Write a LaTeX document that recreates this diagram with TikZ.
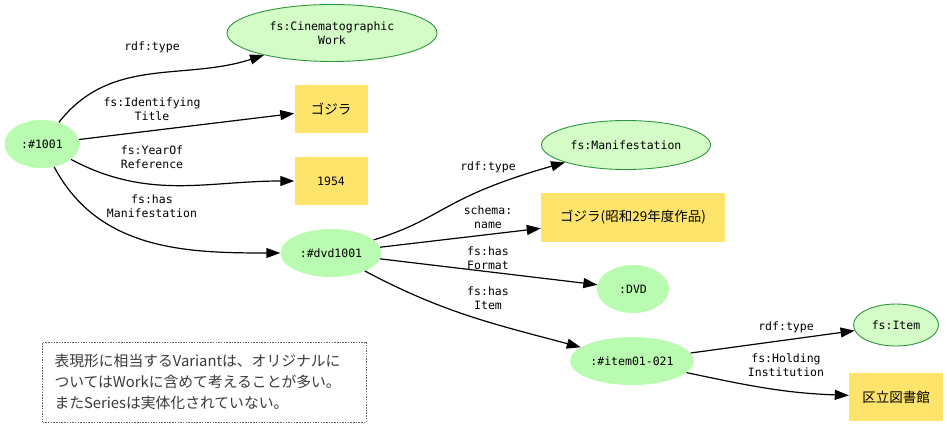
\documentclass[tikz,border=0pt]{standalone}
\usepackage{fontspec}
\setmainfont{DejaVu Sans Mono}
\newfontfamily\jpfont{Noto Sans CJK JP}
\usetikzlibrary{shapes,arrows.meta}

\definecolor{resfill}{HTML}{B9FBB0}
\definecolor{classfill}{HTML}{D3FCC7}
\definecolor{classline}{HTML}{2E963E}
\definecolor{litfill}{HTML}{FFE46C}
\definecolor{notetext}{HTML}{3A3A3A}

\tikzset{
	resource/.style={ellipse, fill=resfill, inner sep=0pt, font=\fontsize{11.5}{14}\selectfont},
	class/.style={ellipse, draw=classline, fill=classfill, line width=0.9pt, inner sep=0pt, align=center, font=\fontsize{11.5}{14}\selectfont},
	literal/.style={rectangle, fill=litfill, inner sep=0pt, minimum height=48pt, font=\fontsize{11.5}{14}\selectfont},
	jplit/.style={literal, font=\jpfont\fontsize{13.5}{16}\selectfont},
	proplabel/.style={align=center, inner sep=0pt, font=\fontsize{11.5}{14.5}\selectfont},
	link/.style={->, line width=1.2pt}
}

\begin{document}
\begin{tikzpicture}[x=1pt, y=-1pt, >={Triangle[length=14pt,width=10pt]}]
	\useasboundingbox (0,0) rectangle (947,427);
	% resources and classes
	\node [resource, minimum width=75pt, minimum height=48pt] (work) at (42,144) {:\#1001};
	\node [class, minimum width=210pt, minimum height=57pt] (cinework) at (332,33) {fs:Cinematographic\\Work};
	\node [jplit, minimum width=73pt] (title) at (331,109) {ゴジラ};
	\node [literal, minimum width=73pt] (year) at (331,181) {1954};
	\node [resource, minimum width=101pt, minimum height=48pt] (dvd) at (331,253) {:\#dvd1001};
	\node [class, minimum width=169pt, minimum height=49pt] (manif) at (626,145) {fs:Manifestation};
	\node [jplit, minimum width=184pt, minimum height=49pt] (name) at (633,217.5) {ゴジラ(昭和29年度作品)};
	\node [resource, minimum width=72pt, minimum height=48pt] (format) at (633,289) {:DVD};
	\node [resource, minimum width=124pt, minimum height=48pt] (item) at (632,361) {:\#item01-021};
	\node [class, minimum width=85pt, minimum height=42pt] (itemclass) at (896,325) {fs:Item};
	\node [jplit, minimum width=94pt] (library) at (896,397) {区立図書館};

	% property labels
	\node [proplabel] (typeA) at (152,47) {rdf:type};
	\node [proplabel] (titleprop) at (152,109) {fs:Identifying\\Title};
	\node [proplabel] (yearprop) at (152,157) {fs:YearOf\\Reference};
	\node [proplabel] (manifprop) at (152,206) {fs:has\\Manifestation};
	\node [proplabel] (typeB) at (488,167) {rdf:type};
	\node [proplabel] (nameprop) at (488,217) {schema:\\name};
	\node [proplabel] (formatprop) at (488,258) {fs:has\\Format};
	\node [proplabel] (itemprop) at (488,298) {fs:has\\Item};
	\node [proplabel] (typeC) at (786,327) {rdf:type};
	\node [proplabel] (holdprop) at (786,365) {fs:Holding\\Institution};

	% links
	\path [link] (work) edge [out=52, in=198] (cinework);
	\path [link] (work) edge (title);
	\path [link] (work) edge [out=-28, in=180] (year);
	\path [link] (work) edge [out=-62, in=180] (dvd);
	\draw [link] (dvd) .. controls (445,218) and (440,198) .. (manif);
	\path [link] (dvd) edge (name);
	\path [link] (dvd) edge (format);
	\path [link] (dvd) edge [out=-28, in=165] (item);
	\path [link] (item) edge (itemclass);
	\path [link] (item) edge [out=-12, in=178] (library);

	% note
	\node [draw=gray!80!black, dash pattern=on 1.5pt off 1.2pt, line width=0.6pt, minimum width=321pt, minimum height=80pt, inner xsep=12pt, text width=300pt, align=left, text=notetext, font=\jpfont\fontsize{14.8}{21}\selectfont] (note) at (204.5,382) {表現形に相当するVariantは、オリジナルに\\ついてはWorkに含めて考えることが多い。\\またSeriesは実体化されていない。};
\end{tikzpicture}
\end{document}
